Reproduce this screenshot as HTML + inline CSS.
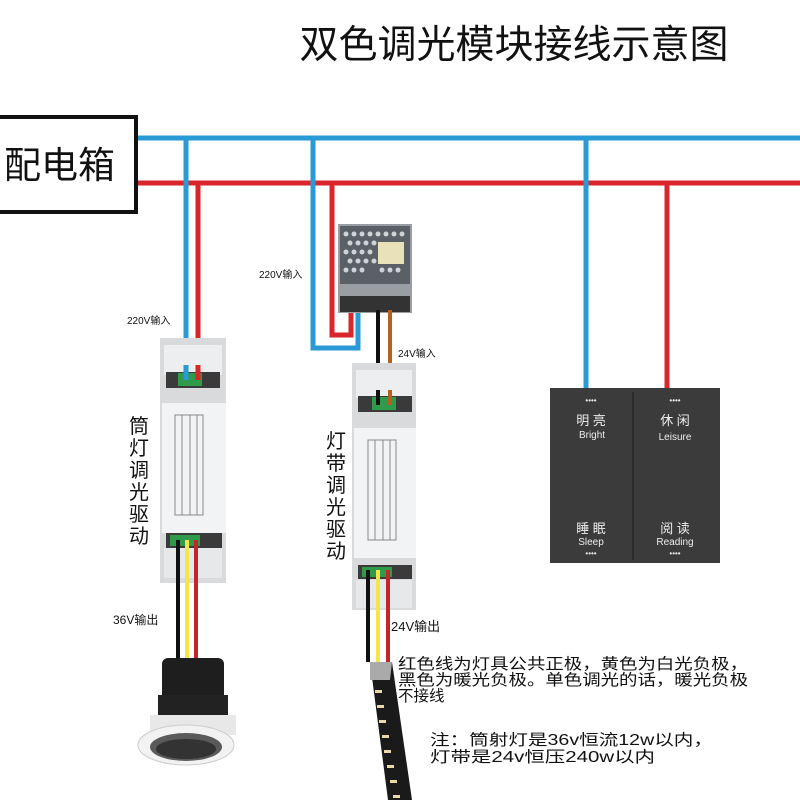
<!DOCTYPE html>
<html><head><meta charset="utf-8"><style>
html,body{margin:0;padding:0;background:#fff}
svg{display:block}
text{font-family:"Liberation Sans","Noto Sans CJK SC",sans-serif}
</style></head><body>
<svg width="800" height="800" viewBox="0 0 800 800" xmlns="http://www.w3.org/2000/svg">
<rect width="800" height="800" fill="#fff"/>
<text x="514" y="58" font-size="39" text-anchor="middle" fill="#111">双色调光模块接线示意图</text>
<rect x="-5" y="117" width="141" height="95" fill="#fff" stroke="#111" stroke-width="4"/>
<text x="4" y="178" font-size="37" fill="#111">配电箱</text>
<line x1="138" y1="138" x2="800" y2="138" stroke="#2a9ad6" stroke-width="5"/>
<line x1="138" y1="183" x2="800" y2="183" stroke="#d8262b" stroke-width="5"/>
<line x1="186" y1="138" x2="186" y2="370" stroke="#2a9ad6" stroke-width="5"/>
<line x1="198" y1="183" x2="198" y2="370" stroke="#d8262b" stroke-width="5"/>
<polyline points="313,138 313,348 358,348 358,312" fill="none" stroke="#2a9ad6" stroke-width="5"/>
<polyline points="332,183 332,335 351,335 351,312" fill="none" stroke="#d8262b" stroke-width="5"/>
<line x1="586" y1="138" x2="586" y2="390" stroke="#2a9ad6" stroke-width="5"/>
<line x1="667" y1="183" x2="667" y2="390" stroke="#d8262b" stroke-width="5"/>
<rect x="338" y="224" width="74" height="89" fill="#9a9ea2"/>
<rect x="340" y="226" width="70" height="58" fill="#5b6066"/>
<g fill="#cfd3d6">
<circle cx="346" cy="234" r="2.5"/><circle cx="354" cy="234" r="2.5"/><circle cx="362" cy="234" r="2.5"/><circle cx="370" cy="234" r="2.5"/><circle cx="378" cy="234" r="2.5"/><circle cx="386" cy="234" r="2.5"/><circle cx="394" cy="234" r="2.5"/><circle cx="402" cy="234" r="2.5"/>
<circle cx="350" cy="243" r="2.5"/><circle cx="358" cy="243" r="2.5"/><circle cx="366" cy="243" r="2.5"/><circle cx="374" cy="243" r="2.5"/>
<circle cx="346" cy="252" r="2.5"/><circle cx="354" cy="252" r="2.5"/><circle cx="362" cy="252" r="2.5"/><circle cx="370" cy="252" r="2.5"/>
<circle cx="350" cy="261" r="2.5"/><circle cx="358" cy="261" r="2.5"/><circle cx="366" cy="261" r="2.5"/><circle cx="374" cy="261" r="2.5"/><circle cx="382" cy="270" r="2.5"/><circle cx="390" cy="270" r="2.5"/><circle cx="398" cy="270" r="2.5"/>
<circle cx="346" cy="270" r="2.5"/><circle cx="354" cy="270" r="2.5"/><circle cx="362" cy="270" r="2.5"/>
</g>
<rect x="378" y="242" width="26" height="22" fill="#e9e2b8"/>
<rect x="340" y="296" width="70" height="16" fill="#333"/>
<line x1="378" y1="310" x2="378" y2="398" stroke="#111" stroke-width="4"/>
<line x1="390" y1="310" x2="390" y2="398" stroke="#b5601e" stroke-width="4"/>
<g>
<rect x="160" y="338" width="66" height="245" fill="#d8dadc"/>
<rect x="164" y="345" width="58" height="30" fill="#eceeef"/>
<rect x="166" y="372" width="54" height="16" fill="#3a3a3a"/>
<rect x="178" y="373" width="24" height="13" fill="#2f9a4a"/>
<rect x="162" y="403" width="64" height="130" fill="#f2f3f4"/>
<rect x="166" y="533" width="56" height="15" fill="#3a3a3a"/>
<rect x="170" y="535" width="30" height="11" fill="#2f9a4a"/>
<rect x="164" y="548" width="58" height="30" fill="#e6e8e9"/>
<g stroke="#888" stroke-width="1" fill="none"><rect x="175" y="415" width="28" height="100"/><line x1="182" y1="415" x2="182" y2="515"/><line x1="190" y1="415" x2="190" y2="515"/><line x1="197" y1="415" x2="197" y2="515"/></g>
</g>
<line x1="186" y1="365" x2="186" y2="380" stroke="#2a9ad6" stroke-width="5"/>
<line x1="198" y1="365" x2="198" y2="380" stroke="#d8262b" stroke-width="5"/>
<g>
<rect x="352" y="363" width="64" height="247" fill="#d8dadc"/>
<rect x="356" y="370" width="56" height="28" fill="#eceeef"/>
<rect x="358" y="396" width="54" height="16" fill="#3a3a3a"/>
<rect x="372" y="397" width="24" height="13" fill="#2f9a4a"/>
<rect x="354" y="428" width="62" height="130" fill="#f2f3f4"/>
<rect x="358" y="565" width="54" height="14" fill="#3a3a3a"/>
<rect x="362" y="567" width="30" height="10" fill="#2f9a4a"/>
<rect x="356" y="580" width="56" height="28" fill="#e6e8e9"/>
<g stroke="#888" stroke-width="1" fill="none"><rect x="368" y="440" width="28" height="100"/><line x1="375" y1="440" x2="375" y2="540"/><line x1="383" y1="440" x2="383" y2="540"/><line x1="390" y1="440" x2="390" y2="540"/></g>
</g>
<line x1="378" y1="390" x2="378" y2="405" stroke="#111" stroke-width="4"/>
<line x1="390" y1="390" x2="390" y2="405" stroke="#b5601e" stroke-width="4"/>
<line x1="178" y1="540" x2="178" y2="660" stroke="#111" stroke-width="4"/>
<line x1="187" y1="540" x2="187" y2="660" stroke="#f3e64a" stroke-width="4"/>
<line x1="196" y1="540" x2="196" y2="660" stroke="#c2262b" stroke-width="4"/>
<line x1="368" y1="570" x2="368" y2="662" stroke="#111" stroke-width="4"/>
<line x1="378" y1="570" x2="378" y2="662" stroke="#f3e64a" stroke-width="4"/>
<line x1="388" y1="570" x2="388" y2="662" stroke="#c2262b" stroke-width="4"/>
<rect x="162" y="658" width="62" height="45" rx="6" fill="#1e1e1e"/>
<rect x="158" y="695" width="70" height="20" fill="#222"/>
<path d="M150 715 L236 715 L236 735 L150 735 Z" fill="#e8e8e8"/>
<ellipse cx="186" cy="745" rx="48" ry="20" fill="#f2f2f2" stroke="#ccc"/>
<ellipse cx="186" cy="747" rx="36" ry="14" fill="#5a5a5a"/>
<ellipse cx="186" cy="749" rx="30" ry="10" fill="#333"/>
<polygon points="370,662 392,662 412,800 388,800" fill="#1a1a1a"/>
<polygon points="370,662 392,662 390,680 370,680" fill="#aaa"/>
<g fill="#e8d9a8"><rect x="375" y="690" width="7" height="3"/><rect x="377" y="705" width="7" height="3"/><rect x="379" y="720" width="7" height="3"/><rect x="382" y="735" width="7" height="3"/><rect x="384" y="750" width="7" height="3"/><rect x="387" y="765" width="7" height="3"/><rect x="390" y="780" width="7" height="3"/><rect x="393" y="795" width="7" height="3"/></g>
<rect x="550" y="388" width="170" height="175" fill="#3b3b3b"/>
<line x1="633" y1="392" x2="633" y2="560" stroke="#2a2a2a" stroke-width="2"/>
<g fill="#eee" font-family="Liberation Serif,Noto Serif CJK SC,serif" text-anchor="middle">
<text x="591" y="403" font-size="8">••••</text><text x="675" y="403" font-size="8">••••</text>
<text x="591" y="425" font-size="13">明 亮</text><text x="592" y="438" font-size="10">Bright</text>
<text x="675" y="425" font-size="13">休 闲</text><text x="675" y="440" font-size="10">Leisure</text>
<text x="591" y="533" font-size="13">睡 眠</text><text x="591" y="545" font-size="10">Sleep</text>
<text x="675" y="533" font-size="13">阅 读</text><text x="675" y="545" font-size="10">Reading</text>
<text x="591" y="556" font-size="8">••••</text><text x="675" y="556" font-size="8">••••</text>
</g>
<g fill="#111">
<text x="127" y="324" font-size="10">220V输入</text>
<text x="259" y="278" font-size="10">220V输入</text>
<text x="398" y="357" font-size="10">24V输入</text>
<text x="113" y="624" font-size="12">36V输出</text>
<text x="391" y="631" font-size="13">24V输出</text>
<g font-size="20" text-anchor="middle">
<text x="139" y="433">筒</text><text x="139" y="455">灯</text><text x="139" y="477">调</text><text x="139" y="499">光</text><text x="139" y="521">驱</text><text x="139" y="543">动</text>
<text x="336" y="448">灯</text><text x="336" y="470">带</text><text x="336" y="492">调</text><text x="336" y="514">光</text><text x="336" y="536">驱</text><text x="336" y="558">动</text>
</g>
<g font-size="15.5">
<text x="398" y="669" textLength="350" lengthAdjust="spacingAndGlyphs">红色线为灯具公共正极，黄色为白光负极，</text>
<text x="398" y="685" textLength="350" lengthAdjust="spacingAndGlyphs">黑色为暖光负极。单色调光的话，暖光负极</text>
<text x="398" y="701">不接线</text>
<text x="430" y="745" textLength="283" lengthAdjust="spacingAndGlyphs">注：筒射灯是36v恒流12w以内，</text>
<text x="430" y="762" textLength="225" lengthAdjust="spacingAndGlyphs">灯带是24v恒压240w以内</text>
</g>
</g>
</svg>
</body></html>
